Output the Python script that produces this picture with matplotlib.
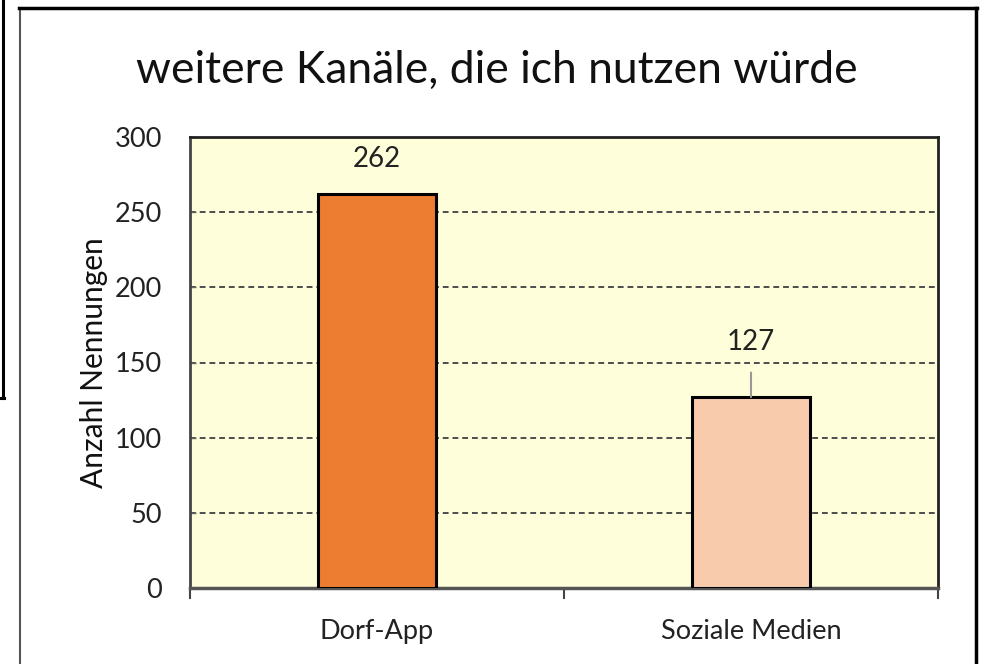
import matplotlib
matplotlib.use("Agg")
import matplotlib.pyplot as plt
from matplotlib.lines import Line2D

categories = ["Dorf-App", "Soziale Medien"]
values = [262, 127]
bar_colors = ["#ED7D31", "#F8CBAD"]
title = "weitere Kanäle, die ich nutzen würde"
ylabel = "Anzahl Nennungen"
yticks = [0, 50, 100, 150, 200, 250, 300]

plt.rcParams['font.family'] = ['Lato', 'DejaVu Sans']
W, H = 982, 664
fig = plt.figure(figsize=(W/100, H/100), dpi=100)
fig.patch.set_facecolor("white")

def fx(x): return x / W
def fy(y): return 1 - y / H

# outer frame pieces
fig.add_artist(Line2D([fx(3), fx(3)], [fy(0), fy(398)], color="black", lw=2.2))
fig.add_artist(Line2D([fx(0), fx(4)], [fy(398), fy(398)], color="black", lw=2.2))
# chart box
fig.add_artist(Line2D([fx(20), fx(20)], [fy(8), fy(664)], color="#555555", lw=1.5))
fig.add_artist(Line2D([fx(19), fx(977)], [fy(8), fy(8)], color="black", lw=2.5))
fig.add_artist(Line2D([fx(976), fx(976)], [fy(8), fy(664)], color="black", lw=2.5))

left, right, top, bottom = 190, 938, 137, 588
ax = fig.add_axes([fx(left), fy(bottom), (right-left)/W, (bottom-top)/H])
ax.set_facecolor("#FEFEDA")

x = range(len(categories))
ax.bar(x, values, width=0.316, color=bar_colors, edgecolor="black", linewidth=2.2, zorder=3)
ax.set_xlim(-0.5, len(categories) - 0.5)
ax.set_ylim(0, 300)
ax.set_yticks(yticks)
for yv in yticks[1:-1]:
    ax.axhline(yv, color="#4d4d4d", lw=1.4, ls=(0, (3, 2)), zorder=1)

ax.set_xticks([-0.5, 0.5, 1.5], minor=False)
ax.set_xticklabels(["", "", ""])
ax.set_xticks(list(x), minor=True)
ax.set_xticklabels(categories, minor=True, fontsize=19.5, color="#222222")
ax.tick_params(axis="x", which="major", direction="out", length=8, width=1.5, color="#444444")
ax.tick_params(axis="x", which="minor", length=0, pad=22)
ax.tick_params(axis="y", direction="in", length=4, width=1, color="#666666", labelsize=19.5,
               labelcolor="#222222", pad=20)

for s in ["top", "right"]:
    ax.spines[s].set_color("#222222")
    ax.spines[s].set_linewidth(2)
ax.spines["left"].set_color("#444444")
ax.spines["left"].set_linewidth(2)
ax.spines["bottom"].set_color("#555555")
ax.spines["bottom"].set_linewidth(2.5)

ax.set_ylabel(ylabel, fontsize=21.5, color="#111111", labelpad=5)
fig.text(fx(497), fy(70), title, ha="center", va="center", fontsize=32, color="#111111")

# data labels
ax.annotate(str(values[0]), xy=(0, values[0]), xytext=(0, 25), textcoords="offset points",
            ha="center", va="center", fontsize=20, color="#222222")
ax.annotate(str(values[1]), xy=(1, values[1]), xytext=(0, 40), textcoords="offset points",
            ha="center", va="center", fontsize=20, color="#222222",
            arrowprops=dict(arrowstyle="-", color="#999999", lw=1.5, shrinkA=11, shrinkB=0))

fig.savefig("out.png", dpi=100, facecolor="white")
